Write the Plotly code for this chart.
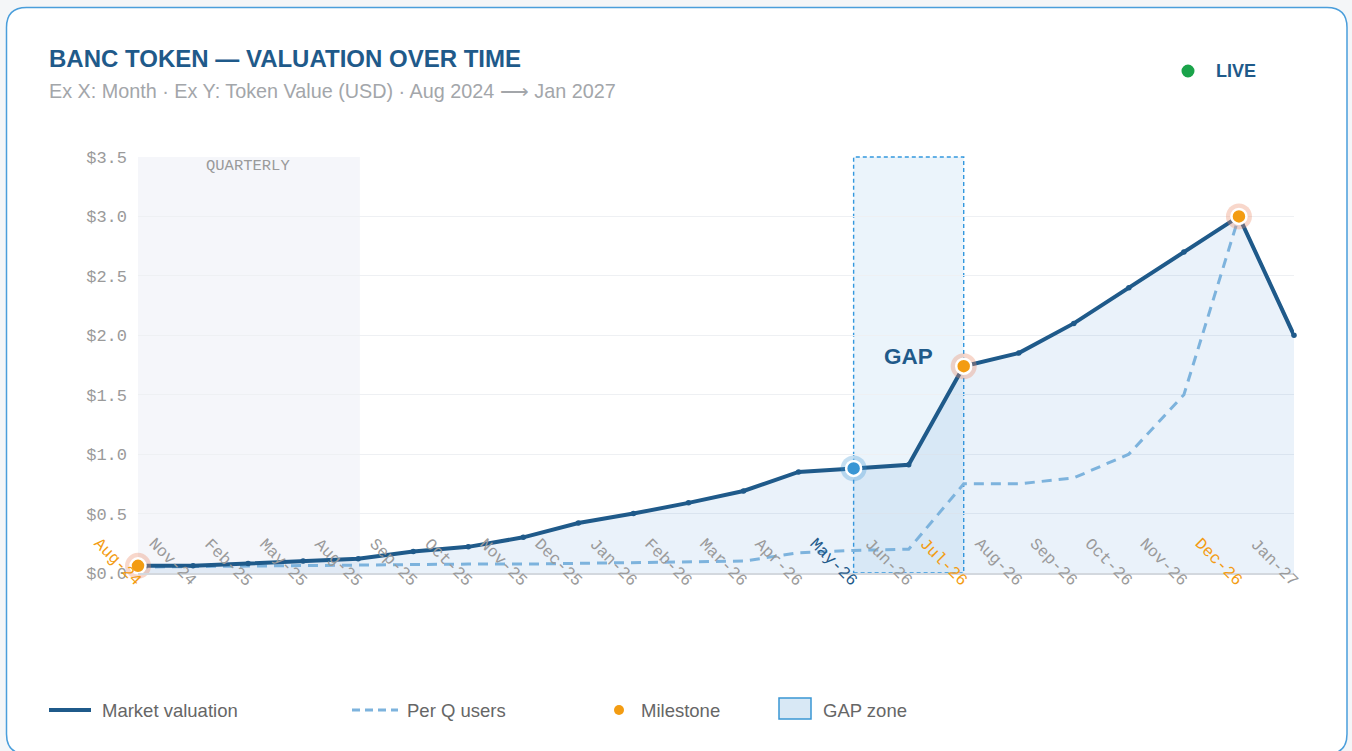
import plotly.graph_objects as go

# ---------------- data ----------------
months = ["Aug-24", "Nov-24", "Feb-25", "May-25", "Aug-25", "Sep-25", "Oct-25", "Nov-25",
          "Dec-25", "Jan-26", "Feb-26", "Mar-26", "Apr-26", "May-26", "Jun-26", "Jul-26",
          "Aug-26", "Sep-26", "Oct-26", "Nov-26", "Dec-26", "Jan-27"]
market_valuation = [0.06, 0.06, 0.08, 0.10, 0.12, 0.18, 0.22, 0.30,
                    0.42, 0.50, 0.59, 0.69, 0.85, 0.88, 0.91, 1.74,
                    1.85, 2.10, 2.40, 2.70, 3.00, 2.00]
per_q_users = [0.05, 0.055, 0.06, 0.065, 0.07, 0.07, 0.075, 0.075,
               0.08, 0.085, 0.09, 0.10, 0.17, 0.19, 0.20, 0.75,
               0.75, 0.80, 1.00, 1.50, 3.00, 2.00]
milestones = ["Aug-24", "Jul-26", "Dec-26"]
highlight = "May-26"
quarterly_span = ("Aug-24", "Aug-25")
gap_span = ("May-26", "Jul-26")
y_ticks = [0.0, 0.5, 1.0, 1.5, 2.0, 2.5, 3.0, 3.5]

# ---------------- styling ----------------
W, H = 1352, 751
ML, MR, MT, MB = 138, 58, 157, 178
PW, PH = W - ML - MR, H - MT - MB
DARK = "#1f5a8a"
LIGHT = "#7db3dd"
ORANGE = "#f39c12"
BLUE = "#3a96d4"
GREY = "#9a9a9a"
MONO = "Courier New, Liberation Mono, monospace"
SANS = "Arial, Liberation Sans, Helvetica, sans-serif"


def px(xp):
    return (xp - ML) / PW


def py(yp):
    return (H - MB - yp) / PH


idx = {m: i for i, m in enumerate(months)}
mv = dict(zip(months, market_valuation))

fig = go.Figure()

# area + market line
fig.add_trace(go.Scatter(x=months, y=market_valuation, mode="lines", fill="tozeroy",
                         fillcolor="rgba(66,140,210,0.11)", line=dict(width=0),
                         hoverinfo="skip", showlegend=False))
fig.add_trace(go.Scatter(x=months, y=per_q_users, mode="lines", name="Per Q users",
                         line=dict(color=LIGHT, width=3, dash="10px,7px"),
                         showlegend=False, cliponaxis=False))
fig.add_trace(go.Scatter(x=months, y=market_valuation, mode="lines+markers",
                         name="Market valuation",
                         line=dict(color=DARK, width=4),
                         marker=dict(color=DARK, size=5.5),
                         showlegend=False, cliponaxis=False))
# halos
fig.add_trace(go.Scatter(x=milestones, y=[mv[m] for m in milestones], mode="markers",
                         marker=dict(color="rgba(236,140,105,0.35)", size=26),
                         hoverinfo="skip", showlegend=False, cliponaxis=False))
fig.add_trace(go.Scatter(x=[highlight], y=[mv[highlight]], mode="markers",
                         marker=dict(color="rgba(58,150,212,0.3)", size=26),
                         hoverinfo="skip", showlegend=False, cliponaxis=False))
fig.add_trace(go.Scatter(x=milestones, y=[mv[m] for m in milestones], mode="markers",
                         name="Milestone",
                         marker=dict(color=ORANGE, size=15, line=dict(color="white", width=2.5)),
                         showlegend=False, cliponaxis=False))
fig.add_trace(go.Scatter(x=[highlight], y=[mv[highlight]], mode="markers",
                         marker=dict(color=BLUE, size=15, line=dict(color="white", width=2.5)),
                         showlegend=False, cliponaxis=False))

shapes = []
# card
L, R, T, B, r = 6.5, 1347, 7.5, 754, 20
path = (f"M {px(L + r)},{py(T)} L {px(R - r)},{py(T)} Q {px(R)},{py(T)} {px(R)},{py(T + r)} "
        f"L {px(R)},{py(B - r)} Q {px(R)},{py(B)} {px(R - r)},{py(B)} "
        f"L {px(L + r)},{py(B)} Q {px(L)},{py(B)} {px(L)},{py(B - r)} "
        f"L {px(L)},{py(T + r)} Q {px(L)},{py(T)} {px(L + r)},{py(T)} Z")
shapes.append(dict(type="path", path=path, xref="paper", yref="paper", layer="below",
                   fillcolor="white", line=dict(color="#4a9edb", width=1.5)))
# quarterly zone
shapes.append(dict(type="rect", xref="x", yref="paper",
                   x0=idx[quarterly_span[0]], x1=idx[quarterly_span[1]] + 0.03, y0=0, y1=1,
                   fillcolor="#f5f6fa", line=dict(width=0), layer="below"))
# gap zone
shapes.append(dict(type="rect", xref="x", yref="paper",
                   x0=idx[gap_span[0]], x1=idx[gap_span[1]], y0=0, y1=1,
                   fillcolor="rgba(58,150,212,0.10)",
                   line=dict(color="#3398de", width=1.4, dash="4px,3px"), layer="below"))

# legend (manual)
ly = py(710)
shapes.append(dict(type="line", xref="paper", yref="paper", x0=px(49), x1=px(91), y0=ly, y1=ly,
                   line=dict(color=DARK, width=4)))
shapes.append(dict(type="line", xref="paper", yref="paper", x0=px(352), x1=px(398), y0=ly, y1=ly,
                   line=dict(color=LIGHT, width=3, dash="8px,5px")))
shapes.append(dict(type="circle", xref="paper", yref="paper", x0=px(614), x1=px(624),
                   y0=py(715), y1=py(705), fillcolor=ORANGE, line=dict(width=0)))
shapes.append(dict(type="rect", xref="paper", yref="paper", x0=px(779), x1=px(811),
                   y0=py(719), y1=py(698), fillcolor="#d8e8f5", line=dict(color=BLUE, width=1.5)))
# LIVE dot
shapes.append(dict(type="circle", xref="paper", yref="paper", x0=px(1181.5), x1=px(1194.5),
                   y0=py(77.5), y1=py(64.5), fillcolor="#1aa34a", line=dict(width=0)))

annotations = []
annotations.append(dict(text="<b>BANC TOKEN — VALUATION OVER TIME</b>", xref="paper", yref="paper",
                        x=px(47), y=py(58), xanchor="left", yanchor="middle", showarrow=False,
                        font=dict(family=SANS, size=24, color=DARK)))
annotations.append(dict(text="Ex X: Month · Ex Y: Token Value (USD) · Aug 2024 ⟶ Jan 2027",
                        xref="paper", yref="paper", x=px(47), y=py(91), xanchor="left",
                        yanchor="middle", showarrow=False,
                        font=dict(family=SANS, size=19.8, color="#a3a6aa")))
annotations.append(dict(text="<b>LIVE</b>", xref="paper", yref="paper", x=px(1214), y=py(71),
                        xanchor="left", yanchor="middle", showarrow=False,
                        font=dict(family=SANS, size=18, color=DARK)))
# legend texts
for label, xl in [("Market valuation", 100), ("Per Q users", 405), ("Milestone", 639),
                  ("GAP zone", 821)]:
    annotations.append(dict(text=label, xref="paper", yref="paper", x=px(xl), y=ly,
                            xanchor="left", yanchor="middle", showarrow=False,
                            font=dict(family=SANS, size=18.5, color="#666666")))
# zone labels
q_mid = (idx[quarterly_span[0]] + idx[quarterly_span[1]]) / 2
annotations.append(dict(text="QUARTERLY", xref="x", yref="paper", x=q_mid, y=1,
                        yshift=-9, xanchor="center", yanchor="middle", showarrow=False,
                        font=dict(family=MONO, size=15.5, color=GREY)))
g_mid = (idx[gap_span[0]] + idx[gap_span[1]]) / 2
annotations.append(dict(text="<b>GAP</b>", xref="x", yref="y", x=g_mid, y=1.82,
                        xanchor="center", yanchor="middle", showarrow=False,
                        font=dict(family=SANS, size=22.5, color=DARK)))
# rotated x tick labels
for m in months:
    c = ORANGE if m in milestones else (DARK if m == highlight else GREY)
    annotations.append(dict(text=m, xref="x", yref="y", x=m, y=0, xshift=-20, yshift=11,
                            textangle=45, xanchor="center", yanchor="middle", showarrow=False,
                            font=dict(family=MONO, size=16.5, color=c)))

fig.update_layout(
    width=W, height=H, autosize=False,
    margin=dict(l=ML, r=MR, t=MT, b=MB, pad=0),
    paper_bgcolor="#f4f6f8", plot_bgcolor="rgba(0,0,0,0)",
    showlegend=False,
    shapes=shapes, annotations=annotations,
    xaxis=dict(type="category", categoryorder="array", categoryarray=months,
               range=[0, len(months) - 1], showgrid=False, showticklabels=False,
               showline=True, linecolor="#d3d8de", linewidth=2, zeroline=False, ticks=""),
    yaxis=dict(range=[0, 3.5], tickvals=y_ticks, tickformat="$.1f", showgrid=True,
               gridcolor="#eef0f3", gridwidth=1, zeroline=False, showline=False,
               ticks="", ticklabelstandoff=10,
               tickfont=dict(family=MONO, size=17, color=GREY)),
)

fig.write_html("out.html", config={"displayModeBar": False},
               post_script="document.body.style.margin='0';document.body.style.overflow='hidden';")
